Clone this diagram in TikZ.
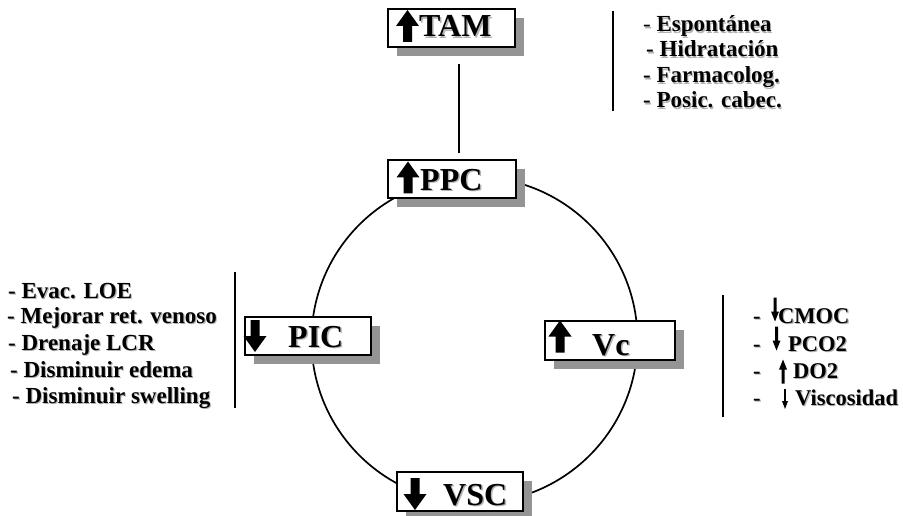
\documentclass[tikz,border=0pt]{standalone}
\usepackage{fontspec}
\setmainfont{Liberation Serif}
\usetikzlibrary{shadows}
% text with a soft gray shadow to the lower right
\newcommand\shadowtxt[2][1.1pt]{\leavevmode\rlap{\kern#1\raisebox{-#1}{\color{black!30}#2}}#2}
\begin{document}
\begin{tikzpicture}[x=1pt,y=-1pt,
  boxnode/.style={draw=black, line width=1.1pt, fill=white, inner sep=0pt,
    drop shadow={shadow xshift=9pt, shadow yshift=-9pt, fill=black!42, opacity=1}},
  boxlabel/.style={font=\fontsize{32}{32}\selectfont\bfseries, anchor=base west, inner sep=0pt},
  listtext/.style={font=\fontsize{23}{23}\selectfont\bfseries, anchor=base west, inner sep=0pt},
  listsmall/.style={font=\fontsize{22.5}{22.5}\selectfont\bfseries, anchor=base west, inner sep=0pt},
  rule/.style={line width=1.5pt},
  blockup/.pic={\fill (0,-16) -- (11.5,0) -- (4.5,0) -- (4.5,16) -- (-4.5,16) -- (-4.5,0) -- (-11.5,0) -- cycle;},
  blockdown/.pic={\fill (0,16) -- (11.5,0) -- (4.5,0) -- (4.5,-16) -- (-4.5,-16) -- (-4.5,0) -- (-11.5,0) -- cycle;},
  smalldown/.pic={\fill (-1.5,-12) -- (1.5,-12) -- (1.5,2) -- (4,2) -- (0,12) -- (-4,2) -- (-1.5,2) -- cycle;},
  smallup/.pic={\fill (-1.5,12) -- (1.5,12) -- (1.5,-2) -- (4,-2) -- (0,-12) -- (-4,-2) -- (-1.5,-2) -- cycle;},
  tinydown/.pic={\fill (-0.8,-10) -- (0.8,-10) -- (0.8,2) -- (3,2) -- (0,10) -- (-3,2) -- (-0.8,2) -- cycle;}
]
\useasboundingbox (0,0) rectangle (903,516);

% the cycle
\draw[line width=1.7pt] (474.5,340) circle[radius=163];

% boxes
\node[boxnode, minimum width=127pt, minimum height=38pt] (tam) at (451.5,28) {};
\node[boxnode, minimum width=128pt, minimum height=38pt] (ppc) at (452,179) {};
\node[boxnode, minimum width=126pt, minimum height=38pt] (pic) at (308,336) {};
\node[boxnode, minimum width=130pt, minimum height=39pt] (vc)  at (610,340.5) {};
\node[boxnode, minimum width=126pt, minimum height=39pt] (vsc) at (460,491.5) {};

% box labels
\node[boxlabel] (tamlbl) at (419,37) {\shadowtxt[1.5pt]{TAM}};
\node[boxlabel] (ppclbl) at (420,190) {\shadowtxt[1.5pt]{PPC}};
\node[boxlabel] (piclbl) at (288,347) {\shadowtxt[1.5pt]{PIC}};
\node[boxlabel] (vclbl)  at (592,355) {\shadowtxt[1.5pt]{Vc}};
\node[boxlabel] (vsclbl) at (443,505) {\shadowtxt[1.5pt]{VSC}};

% block arrows inside the boxes
\pic at (407.5,26) {blockup};
\pic at (408,177.5) {blockup};
\pic at (255,336) {blockdown};
\pic at (560,336.5) {blockup};
\pic at (415,494) {blockdown};

% link between TAM and PPC
\coordinate (tamlink) at (459,64);
\coordinate (ppclink) at (459,153);
\draw[line width=1.5pt] (tamlink) -- (ppclink);

% separators
\coordinate (s1a) at (613,11); \coordinate (s1b) at (613,111);
\coordinate (s2a) at (235,272); \coordinate (s2b) at (235,408);
\coordinate (s3a) at (723,295); \coordinate (s3b) at (723,417);
\draw[rule] (s1a) -- (s1b);
\draw[rule] (s2a) -- (s2b);
\draw[rule] (s3a) -- (s3b);

% measures acting on TAM
\node[listtext] (t1) at (643,32) {\shadowtxt{\mdseries-\space\bfseries Espontánea}};
\node[listtext] (t2) at (646,57) {\shadowtxt{- Hidratación}};
\node[listtext] (t3) at (643,83) {\shadowtxt{- Farmacolog.}};
\node[listtext] (t4) at (643,108) {\shadowtxt{- Posic. cabec.}};

% measures acting on PIC
\node[listtext] (p1) at (8,298) {\shadowtxt{- Evac. LOE}};
\node[listtext] (p2) at (7,323) {\shadowtxt{- Mejorar ret. venoso}};
\node[listtext] (p3) at (8,350) {\shadowtxt{- Drenaje LCR}};
\node[listtext] (p4) at (10,377) {\shadowtxt{- Disminuir edema}};
\node[listtext] (p5) at (12,403) {\shadowtxt{- Disminuir swelling}};

% factors acting on Vc
\node[listsmall] (d1) at (753,323) {\shadowtxt{-}};
\node[listsmall] (d2) at (753,351) {\shadowtxt{-}};
\node[listsmall] (d3) at (753,378) {\shadowtxt{-}};
\node[listsmall] (d4) at (753,405) {\shadowtxt{-}};
\pic at (775,309.5) {smalldown};
\pic at (776.5,338.5) {smalldown};
\pic at (783,371.5) {smallup};
\pic at (785,399) {tinydown};
\node[listsmall] (v1) at (778,323) {\shadowtxt{CMOC}};
\node[listsmall] (v2) at (788,351) {\shadowtxt{PCO2}};
\node[listsmall] (v3) at (793,378) {\shadowtxt{DO2}};
\node[listsmall] (v4) at (795,405) {\shadowtxt{Viscosidad}};
\end{tikzpicture}
\end{document}
